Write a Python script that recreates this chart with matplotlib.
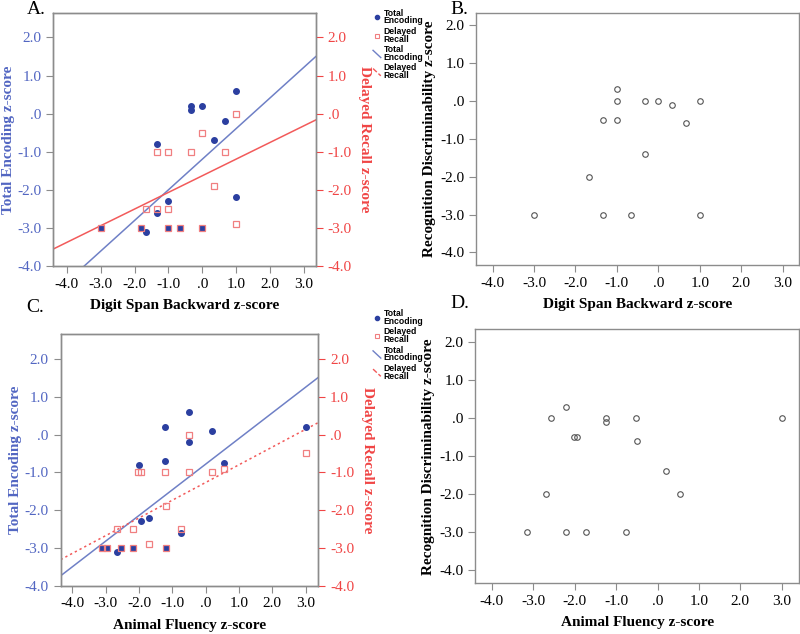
import numpy as np
import matplotlib
matplotlib.use("Agg")
import matplotlib.pyplot as plt
from matplotlib.lines import Line2D
from matplotlib.legend_handler import HandlerBase
from matplotlib.ticker import FuncFormatter

# ------------------------------------------------------------
# data
# ------------------------------------------------------------
# A: Digit Span Backward vs Total Encoding / Delayed Recall
dsb_enc_x = [1.0, -0.33, -0.33, 0.0, 0.67, 0.33, -1.33, -1.0, 1.0, -1.33, -1.8, -1.67, -3.0, -1.0, -0.67, 0.0]
dsb_enc_y = [0.6, 0.2, 0.1, 0.2, -0.2, -0.7, -0.8, -2.3, -2.2, -2.6, -3.0, -3.1, -3.0, -3.0, -3.0, -3.0]
dsb_rec_x = [1.0, 0.0, -1.33, -1.0, -0.33, 0.67, 0.33, -1.67, -1.33, -1.0, 1.0, -3.0, -1.8, -1.0, -0.67, 0.0]
dsb_rec_y = [0.0, -0.5, -1.0, -1.0, -1.0, -1.0, -1.9, -2.5, -2.5, -2.5, -2.9, -3.0, -3.0, -3.0, -3.0, -3.0]
fit_a_enc = (0.804, -1.195)   # slope, intercept
fit_a_rec = (0.437, -1.63)

# B: Digit Span Backward vs Recognition Discriminability
dsb_rd_x = [-1.0, -1.0, -0.33, 0.0, 0.33, 1.0, -1.33, -1.0, 0.67, -0.33, -1.67, -3.0, -1.33, -0.67, 1.0]
dsb_rd_y = [0.3, 0.0, 0.0, 0.0, -0.1, 0.0, -0.5, -0.5, -0.6, -1.4, -2.0, -3.0, -3.0, -3.0, -3.0]

# C: Animal Fluency vs Total Encoding / Delayed Recall
af_enc_x = [-0.5, -1.23, 0.2, -0.5, -1.23, -2.0, 0.55, -1.94, -1.7, -0.75, 3.0, -2.65, -3.1, -2.97, -2.55, -2.17, -1.2]
af_enc_y = [0.6, 0.2, 0.1, -0.2, -0.7, -0.8, -0.75, -2.3, -2.2, -2.6, 0.2, -3.1, -3.0, -3.0, -3.0, -3.0, -3.0]
af_rec_x = [-0.5, 3.0, -2.04, -1.94, -1.23, -0.5, 0.2, 0.55, -1.2, -2.65, -2.17, -0.75, -1.7, -3.1, -2.97, -2.55, -2.17, -1.2]
af_rec_y = [0.0, -0.5, -1.0, -1.0, -1.0, -1.0, -1.0, -0.9, -1.9, -2.5, -2.5, -2.5, -2.9, -3.0, -3.0, -3.0, -3.0, -3.0]
fit_c_enc = (0.679, -0.785)
fit_c_rec = (0.469, -1.27)

# D: Animal Fluency vs Recognition Discriminability
af_rd_x = [-2.2, -2.58, -1.25, -1.25, -0.52, 3.0, -2.02, -1.95, -0.5, 0.2, -2.68, 0.55, -3.14, -2.2, -1.72, -0.76]
af_rd_y = [0.3, 0.0, 0.0, -0.1, 0.0, 0.0, -0.5, -0.5, -0.6, -1.4, -2.0, -2.0, -3.0, -3.0, -3.0, -3.0]

ticks = [-4.0, -3.0, -2.0, -1.0, 0.0, 1.0, 2.0, 3.0]
yticks = [-4.0, -3.0, -2.0, -1.0, 0.0, 1.0, 2.0]

# ------------------------------------------------------------
# style
# ------------------------------------------------------------
serif = "Liberation Serif"
blue_txt = "#5266c2"
red_txt = "#f04545"
dot_col = "#2b3fa0"
sq_col = "#f07f80"
blue_line = "#6f80c6"
red_line = "#f25a5a"
spine_col = "#8c8c8c"


def spss_fmt(v, pos):
    if abs(v) < 1e-9:
        return ".0"
    return f"{v:.1f}"


def style_axis(ax):
    for s in ax.spines.values():
        s.set_color(spine_col)
        s.set_linewidth(1.0)
    ax.tick_params(direction="out", length=5, width=0.8, color=spine_col,
                   labelsize=11)
    for lab in ax.get_xticklabels() + ax.get_yticklabels():
        lab.set_fontfamily(serif)
    ax.xaxis.set_major_formatter(FuncFormatter(spss_fmt))
    ax.yaxis.set_major_formatter(FuncFormatter(spss_fmt))


# short diagonal line for the fit-line legend entries (SPSS look)
class DiagHandler(HandlerBase):
    def create_artists(self, legend, orig, xd, yd, width, height, fontsize, trans):
        ln = Line2D([-xd, -xd + width], [-yd + height * 1.1, -yd - height * 0.1],
                    color=orig.get_color(), lw=orig.get_linewidth(),
                    ls=orig.get_linestyle(), transform=trans)
        return [ln]


fig = plt.figure(figsize=(8, 6.34), dpi=100)

axA = fig.add_axes([0.0667, 0.5804, 0.328, 0.399])
axB = fig.add_axes([0.595, 0.582, 0.404, 0.398])
axC = fig.add_axes([0.0758, 0.0762, 0.322, 0.397])
axD = fig.add_axes([0.594, 0.080, 0.405, 0.4006])


def encoding_panel(ax, ex, ey, rx, ry, fit_e, fit_r, xlim, ylim, xlab, rec_ls):
    ax.plot(ex, ey, "o", ms=4, color=dot_col, mec=dot_col, zorder=3)
    ax.plot(rx, ry, "s", ms=4.5, mfc="none", mec=sq_col, mew=0.9, zorder=4)
    xx = np.array(xlim)
    ax.plot(xx, fit_e[0] * xx + fit_e[1], "-", color=blue_line, lw=1.1, zorder=2)
    ax.plot(xx, fit_r[0] * xx + fit_r[1], color=red_line, lw=1.1, ls=rec_ls, zorder=2)
    ax.set_xlim(xlim)
    ax.set_ylim(ylim)
    ax.set_xticks(ticks)
    ax.set_yticks(yticks)
    style_axis(ax)
    for lab in ax.get_yticklabels():
        lab.set_color(blue_txt)
    ax.set_xlabel(xlab, fontfamily=serif, fontweight="bold", fontsize=11, labelpad=6)
    ax.set_ylabel("Total Encoding z-score", fontfamily=serif, fontweight="bold",
                  fontsize=11, color=blue_txt, labelpad=2)

    tw = ax.twinx()
    tw.set_ylim(ylim)
    tw.set_yticks(yticks)
    style_axis(tw)
    tw.tick_params(axis="y", color=red_txt)
    for lab in tw.get_yticklabels():
        lab.set_color(red_txt)
    tw.set_ylabel("Delayed Recall z-score", fontfamily=serif, fontweight="bold",
                  fontsize=11, color=red_txt, rotation=-90, labelpad=14)


def rd_panel(ax, x, y, xlim, ylim, xlab):
    ax.plot(x, y, "o", ms=4, mfc="none", mec="#555555", mew=0.8)
    ax.set_xlim(xlim)
    ax.set_ylim(ylim)
    ax.set_xticks(ticks)
    ax.set_yticks(yticks)
    style_axis(ax)
    ax.set_xlabel(xlab, fontfamily=serif, fontweight="bold", fontsize=11, labelpad=6)
    ax.set_ylabel("Recognition Discriminability z-score", fontfamily=serif,
                  fontweight="bold", fontsize=11, labelpad=3)


encoding_panel(axA, dsb_enc_x, dsb_enc_y, dsb_rec_x, dsb_rec_y, fit_a_enc, fit_a_rec,
               (-4.4, 3.35), (-4.0, 2.64), "Digit Span Backward z-score", "-")
rd_panel(axB, dsb_rd_x, dsb_rd_y, (-4.4, 3.4), (-4.33, 2.32), "Digit Span Backward z-score")
encoding_panel(axC, af_enc_x, af_enc_y, af_rec_x, af_rec_y, fit_c_enc, fit_c_rec,
               (-4.35, 3.38), (-4.0, 2.66), "Animal Fluency z-score", (0, (1.5, 2)))
rd_panel(axD, af_rd_x, af_rd_y, (-4.4, 3.42), (-4.35, 2.34), "Animal Fluency z-score")

# legends (SPSS style, outside the plot frame)
fit_enc_h = Line2D([], [], color=blue_line, lw=1.0)
fit_rec_h = Line2D([], [], color=red_line, lw=1.0, ls=(0, (1, 2)))
handles = [
    Line2D([], [], ls="none", marker="o", ms=3, color=dot_col),
    Line2D([], [], ls="none", marker="s", ms=3.5, mfc="none", mec=sq_col, mew=0.8),
    fit_enc_h,
    fit_rec_h,
]
labels = ["Total\nEncoding", "Delayed\nRecall", "Total\nEncoding", "Delayed\nRecall"]
for ypos in (0.992, 0.518):
    leg = fig.legend(handles, labels, loc="upper left", bbox_to_anchor=(0.462, ypos),
                     frameon=False, prop={"family": "Liberation Sans", "weight": "bold", "size": 6.2},
                     handlelength=0.9, handletextpad=0.35, labelspacing=0.15, borderaxespad=0,
                     handler_map={fit_enc_h: DiagHandler(), fit_rec_h: DiagHandler()})
    for t in leg.get_texts():
        t.set_linespacing(0.85)

# panel letters
for txt, x, y in [("A.", 0.033, 0.998), ("B.", 0.563, 0.998), ("C.", 0.033, 0.528), ("D.", 0.563, 0.535)]:
    fig.text(x, y, txt, fontfamily=serif, fontsize=14, va="top", ha="left")

fig.savefig("out.png", dpi=100)
